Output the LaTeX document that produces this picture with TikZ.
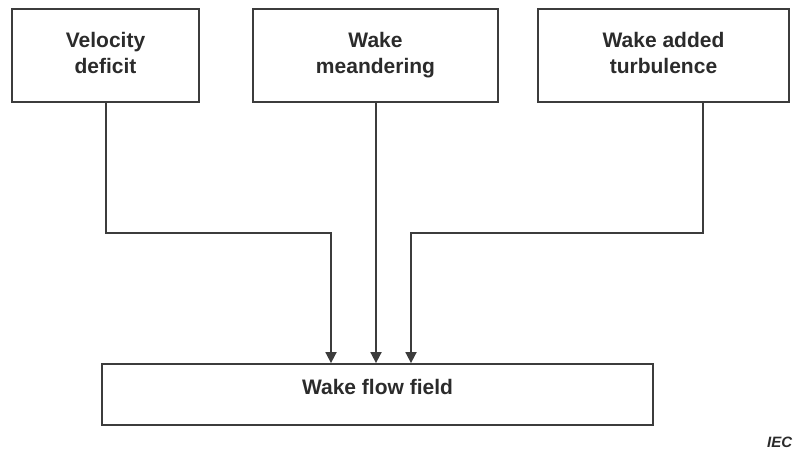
\documentclass[tikz,border=0pt]{standalone}
\usepackage{fontspec}
\setmainfont{Liberation Sans}
\usetikzlibrary{arrows.meta}
\definecolor{boxline}{HTML}{3C3C3C}
\definecolor{boxtext}{HTML}{2B2B2B}
\tikzset{
  topbox/.style={draw=boxline, line width=1.8pt, rectangle, inner sep=0pt,
    minimum height=93pt, align=center, text=boxtext,
    font=\bfseries\fontsize{21}{26}\selectfont},
  flowbox/.style={draw=boxline, line width=1.8pt, rectangle, inner sep=0pt,
    minimum width=551pt, minimum height=61pt, text=boxtext,
    text height=15pt, text depth=16pt,
    font=\bfseries\fontsize{21}{26}\selectfont},
  conn/.style={draw=boxline, line width=1.8pt,
    -{Triangle[length=11pt,width=11pt]}},
  ieclabel/.style={text=boxtext, font=\bfseries\itshape\fontsize{15}{18}\selectfont,
    anchor=base west, inner sep=0pt}
}
\begin{document}
\begin{tikzpicture}[x=1pt,y=-1pt]
  \useasboundingbox (0,0) rectangle (793,452);
  \node[topbox, minimum width=187pt] (vd) at (105.5,55.5) {Velocity\\deficit\vphantom{g}};
  \node[topbox, minimum width=245pt] (wm) at (375.5,55.5) {Wake\vphantom{l}\\meandering};
  \node[topbox, minimum width=251pt] (wt) at (663.5,55.5) {Wake added\\turbulence\vphantom{g}};
  \node[flowbox] (wf) at (377.5,394.5) {Wake flow field};
  \coordinate (xa) at (331,0);
  \coordinate (xb) at (376,0);
  \coordinate (xc) at (411,0);
  \coordinate (ya) at (0,233);
  \coordinate (pa) at (106,0);
  \coordinate (pc) at (703,0);
  \draw[conn] (vd.south -| pa) -- (pa |- ya) -| (wf.north -| xa);
  \draw[conn] (wm.south -| xb) -- (wf.north -| xb);
  \draw[conn] (wt.south -| pc) -- (pc |- ya) -| (wf.north -| xc);
  \node[ieclabel] (iec) at (767,447) {IEC};
\end{tikzpicture}
\end{document}
